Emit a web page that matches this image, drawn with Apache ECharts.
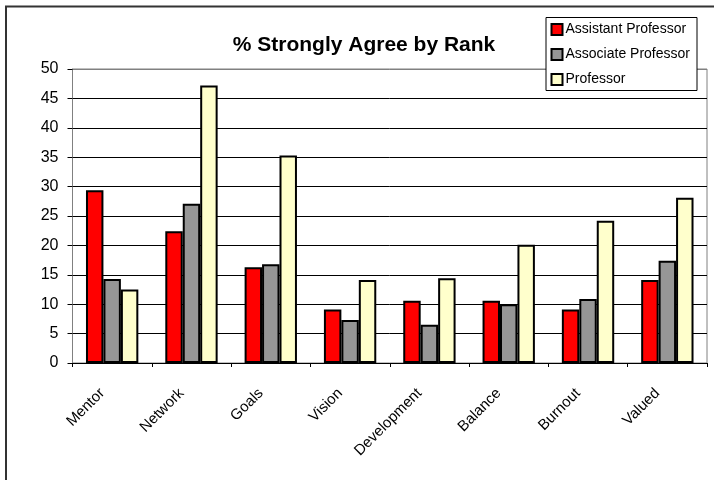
<!DOCTYPE html>
<html>
<head>
<meta charset="utf-8">
<style>
  html, body { margin: 0; padding: 0; background: #ffffff; }
  #chart { width: 714px; height: 480px; }
</style>
<script src="https://cdn.jsdelivr.net/npm/echarts@6/dist/echarts.min.js"></script>
</head>
<body>
<div id="chart"></div>
<script>
// Survey items along the category axis
var categories = ['Mentor', 'Network', 'Goals', 'Vision', 'Development', 'Balance', 'Burnout', 'Valued'];

// % answering "Strongly Agree", by faculty rank
var assistantProfessor = [29.4, 22.4, 16.3, 9.1, 10.6, 10.6, 9.1, 14.1];
var associateProfessor = [14.3, 27.1, 16.8, 7.3, 6.5, 10.0, 10.9, 17.4];
var professor = [12.5, 47.2, 35.3, 14.1, 14.4, 20.1, 24.2, 28.1];

var seriesNames = ['Assistant Professor', 'Associate Professor', 'Professor'];
var seriesColors = ['#ff0000', '#969696', '#ffffcc'];

// Value-axis ticks
var yMin = 0, yMax = 50, yStep = 5;

var FONT = "'Liberation Sans', Arial, sans-serif";

var chart = echarts.init(document.getElementById('chart'), null, { renderer: 'canvas' });

var dataSets = [assistantProfessor, associateProfessor, professor];
var series = dataSets.map(function (d, i) {
  return {
    name: seriesNames[i],
    type: 'bar',
    data: d,
    barGap: '0%',
    barCategoryGap: '34%',
    itemStyle: { color: seriesColors[i], borderColor: '#000000', borderWidth: 2 }
  };
});

// Grid lines: black inside the plot, grey along the top border
var splitColors = [];
for (var v = yMin; v <= yMax; v += yStep) splitColors.push(v === yMax ? '#808080' : '#000000');

chart.setOption({
  backgroundColor: '#ffffff',
  animation: false,
  color: seriesColors,
  grid: {
    left: 72.5, right: 7, top: 69, bottom: 117,
    show: true, borderColor: '#808080', borderWidth: 1, backgroundColor: '#ffffff'
  },
  xAxis: {
    type: 'category',
    data: categories,
    axisLine: { lineStyle: { color: '#000000', width: 1 } },
    axisTick: { show: true, length: 4, lineStyle: { color: '#000000' } },
    axisLabel: {
      rotate: 45, margin: 18, padding: [0, 14, 0, 0],
      fontFamily: FONT, fontSize: 15, color: '#000000'
    }
  },
  yAxis: {
    type: 'value',
    min: yMin, max: yMax, interval: yStep,
    axisLine: { show: true, lineStyle: { color: '#808080', width: 1 } },
    axisTick: { show: true, length: 5, lineStyle: { color: '#000000' } },
    axisLabel: { margin: 14, fontFamily: FONT, fontSize: 16, color: '#000000' },
    splitLine: { show: true, lineStyle: { color: splitColors, width: 1 } }
  },
  legend: {
    orient: 'vertical',
    left: 550.5, top: 21.5,
    padding: 0,
    z: 10,
    itemWidth: 11, itemHeight: 11,
    itemGap: 9,
    icon: 'rect',
    textStyle: { fontFamily: FONT, fontSize: 14, color: '#000000', lineHeight: 16, padding: [0, 0, 0, -2] },
    data: seriesNames
  },
  graphic: [
    // outer chart frame (runs off the right and bottom edges)
    {
      type: 'rect', z: -10, silent: true,
      shape: { x: 6, y: 6.5, width: 900, height: 700 },
      style: { fill: null, stroke: '#333333', lineWidth: 2 }
    },
    // legend box
    {
      type: 'rect', z: 3, silent: true,
      shape: { x: 546, y: 17.5, width: 151, height: 73 },
      style: { fill: '#ffffff', stroke: '#000000', lineWidth: 1 }
    },
    {
      type: 'text', z: 10, silent: true,
      x: 364, y: 45,
      style: {
        text: '% Strongly Agree by Rank',
        fontFamily: FONT, fontSize: 21, fontWeight: 'bold',
        fill: '#000000', textAlign: 'center', textVerticalAlign: 'middle'
      }
    }
  ],
  series: series
});
</script>
</body>
</html>
